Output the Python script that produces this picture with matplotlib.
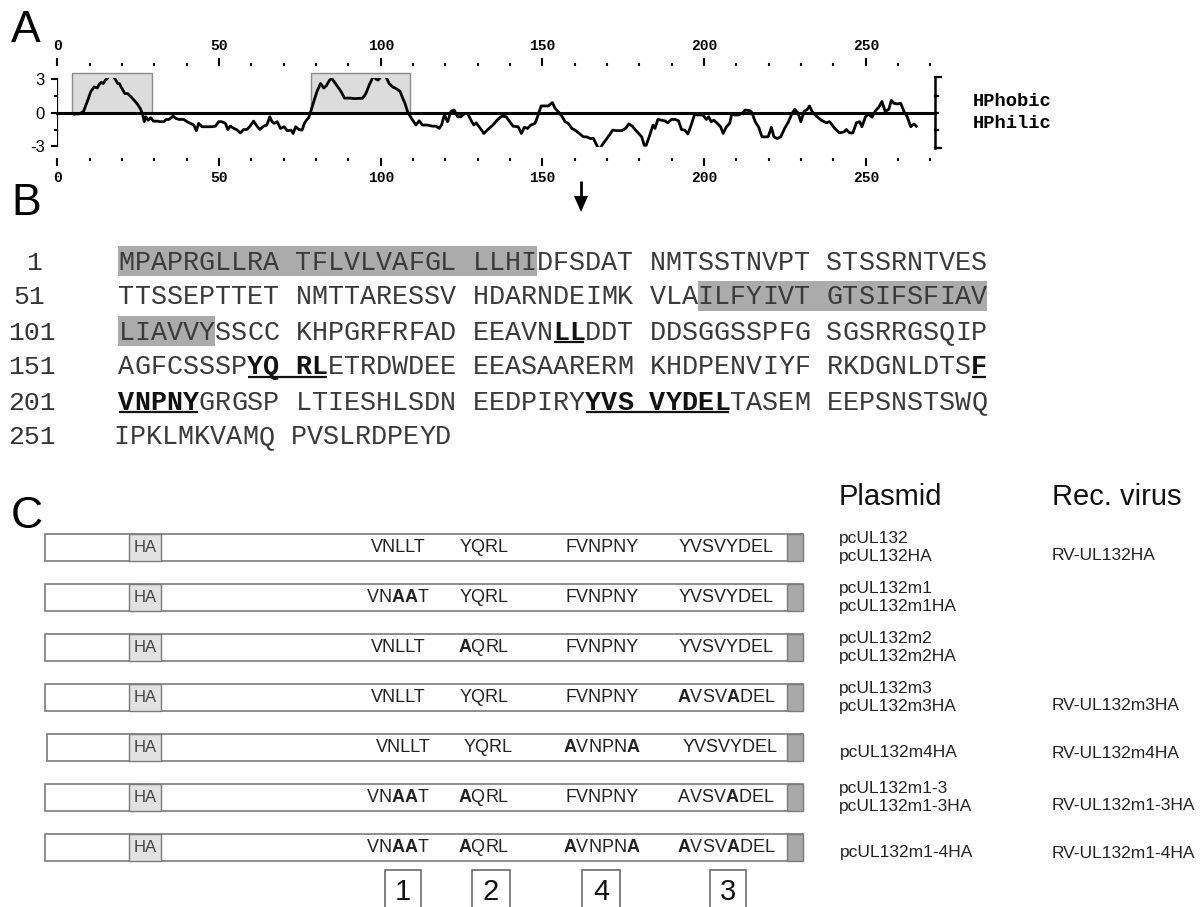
import matplotlib
matplotlib.use("Agg")
import matplotlib.pyplot as plt
from matplotlib.patches import Rectangle

plt.rcParams['font.family'] = ['Liberation Sans', 'DejaVu Sans']
plt.rcParams['mathtext.fontset'] = 'custom'
plt.rcParams['mathtext.rm'] = 'Liberation Sans'
plt.rcParams['mathtext.it'] = 'Liberation Sans:italic'
plt.rcParams['mathtext.bf'] = 'Liberation Sans:bold'

# ---- panel A: hydropathy profile (residue, score) ----
hyd_pos = [5.3, 6.8, 8.1, 9.4, 10.4, 11.4, 12.4, 12.9, 13.6, 14.2, 14.9, 15.6, 16.6, 17.8, 18.7,
           19.2, 19.7, 20.9, 21.8, 22.8, 23.8, 24.8, 25.6, 26.3, 26.9, 27.4, 28.1, 28.9, 29.7,
           30.9, 31.7, 32.9, 33.7, 34.5, 35.2, 35.8, 36.6, 37.6, 39.1, 40.1, 41.2, 42.2, 43.0,
           43.7, 44.7, 46.3, 47.8, 48.9, 49.9, 50.9, 52.0, 52.7, 53.5, 54.6, 55.4, 56.6, 57.6,
           58.6, 59.6, 60.7, 61.5, 62.6, 63.8, 64.8, 65.7, 66.4, 67.1, 68.0, 69.0, 70.1, 71.1,
           72.3, 72.9, 73.7, 74.7, 75.7, 76.4, 77.1, 77.8, 78.5, 79.3, 80.3, 81.4, 82.4, 83.2,
           84.2, 84.9, 86.0, 87.0, 87.7, 88.8, 90.6, 92.1, 93.4, 94.4, 95.4, 96.5, 97.5, 98.0,
           98.5, 99.2, 99.8, 100.8, 101.8, 102.6, 103.7, 105.0, 106.0, 106.8, 107.5, 108.3,
           109.2, 109.9, 110.9, 111.9, 112.9, 114.5, 116.0, 117.1, 118.1, 118.8, 119.7, 120.7,
           121.7, 122.7, 123.8, 124.8, 126.0, 126.9, 127.9, 128.8, 129.5, 130.8, 131.9, 133.1,
           134.7, 136.0, 137.5, 138.8, 139.9, 140.9, 142.5, 143.5, 144.4, 145.4, 146.4, 147.7,
           148.5, 149.6, 150.8, 151.8, 153.1, 153.9, 154.9, 156.0, 157.0, 158.0, 159.1, 160.1,
           161.4, 162.7, 163.7, 164.8, 165.8, 166.8, 167.6, 168.4, 169.7, 170.7, 171.7, 173.1,
           174.6, 175.7, 176.7, 177.8, 178.8, 179.8, 180.7, 181.5, 182.1, 183.2, 184.2, 184.8,
           185.7, 186.8, 187.8, 188.8, 189.9, 191.1, 192.1, 193.0, 194.0, 195.0, 196.0, 197.1,
           198.1, 199.6, 200.7, 201.4, 202.2, 203.0, 204.1, 205.1, 205.9, 206.9, 207.9, 208.6,
           209.4, 210.7, 212.0, 212.7, 214.1, 214.8, 215.8, 216.9, 217.9, 219.8, 220.8, 221.6,
           222.6, 223.7, 224.9, 226.1, 227.2, 228.0, 229.0, 229.9, 230.9, 231.9, 232.6, 233.4,
           234.7, 236.2, 237.8, 238.8, 240.4, 241.9, 243.3, 244.0, 245.0, 246.0, 247.1, 248.1,
           248.8, 249.9, 250.9, 251.9, 253.0, 254.0, 255.0, 256.0, 257.1, 257.9, 258.7, 259.7,
           260.8, 261.8, 262.8, 263.9, 264.9, 265.6]
hyd_val = [-0.12, -0.1, 0.1, 1.1, 1.9, 2.3, 2.2, 2.5, 2.7, 2.6, 2.9, 3.1, 3.5, 3.05, 2.6,
           2.6, 2.3, 1.7, 1.7, 1.4, 1.1, 0.75, 0.4, -0.06, -0.8, -0.36, -0.66, -0.45, -0.75,
           -0.75, -0.8, -0.8, -0.6, -0.6, -0.45, -0.3, -0.5, -0.6, -0.6, -0.8, -0.95, -1.1, -1.6,
           -0.95, -1.25, -1.25, -1.25, -1.2, -0.8, -0.8, -0.95, -1.5, -1.2, -1.4, -1.5, -1.8, -1.5,
           -1.5, -1.2, -0.75, -1.1, -1.5, -1.2, -1.1, -0.36, -0.8, -0.95, -0.8, -1.4, -1.25, -1.6,
           -1.55, -1.85, -1.25, -1.5, -1.55, -0.95, -0.65, -0.4, 0.24, 1.0, 1.9, 2.6, 2.2, 2.4,
           2.9, 3.05, 2.6, 2.2, 1.9, 1.3, 1.3, 1.25, 1.28, 1.28, 1.7, 2.5, 3.1, 3.3,
           3.0, 2.9, 3.1, 3.5, 3.1, 2.6, 2.3, 2.1, 1.9, 1.3, 0.84, 0.1,
           -0.36, -0.66, -1.1, -0.72, -1.1, -1.1, -1.2, -1.2, -1.4, -1.1, -0.2, -0.8,
           0.1, 0.24, -0.36, -0.36, -0.06, -0.06, -0.66, -1.1, -0.9, -1.4, -1.85, -1.5,
           -1.1, -0.66, -0.3, -0.36, -0.8, -1.2, -1.25, -1.85, -1.3, -1.4, -1.1, -0.95,
           -0.36, 0.6, 0.6, 0.6, 0.9, 0.4, 0.1, -0.3, -0.8, -0.95, -1.4, -1.55,
           -1.85, -2.15, -2.15, -2.3, -2.3, -2.9, -3.3, -2.9, -2.4, -2.0, -1.55, -1.6,
           -1.6, -1.4, -1.0, -1.2, -1.55, -1.85, -2.15, -2.9, -2.9, -2.0, -1.1, -1.4,
           -0.6, -0.66, -0.72, -0.9, -0.6, -0.6, -0.72, -1.5, -1.55, -1.9, -1.1, -0.12,
           -0.2, -0.2, -0.6, -0.36, -0.8, -0.66, -0.95, -1.25, -1.85, -1.25, -0.95, -0.06,
           -0.2, -0.2, 0.0, 0.24, 0.18, 0.0, -0.8, -1.3, -2.15, -2.15, -1.3, -2.15,
           -2.3, -2.15, -1.4, -0.8, -0.06, 0.3, 0.0, -0.8, 0.1, 0.3, 0.6, 0.1,
           -0.3, -0.66, -0.9, -0.8, -1.4, -1.8, -1.7, -1.5, -1.8, -1.8, -0.9, -0.8,
           -1.25, -0.36, -0.12, -0.4, 0.18, 0.48, 1.0, 0.1, 0.3, 1.1, 0.84, 0.78,
           0.84, 0.1, -0.36, -1.25, -1.0, -1.2]
tm_regions = [(4.6, 29.2), (78.5, 109.2)]

# ---- panel B: sequence ----
seq_numbers = ['1', '51', '101', '151', '201', '251']
seq_rows = ['MPAPRGLLRA TFLVLVAFGL LLHIDFSDAT NMTSSTNVPT STSSRNTVES',
            'TTSSEPTTET NMTTARESSV HDARNDEIMK VLAILFYIVT GTSIFSFIAV',
            'LIAVVYSSCC KHPGRFRFAD EEAVNLLDDT DDSGGSSPFG SGSRRGSQIP',
            'AGFCSSSPYQ RLETRDWDEE EEASAARERM KHDPENVIYF RKDGNLDTSF',
            'VNPNYGRGSP LTIESHLSDN EEDPIRYYVS VYDELTASEM EEPSNSTSWQ',
            'IPKLMKVAMQ PVSLRDPEYD']
shaded = [(0, 0, 26), (1, 36, 54), (2, 0, 6)]
motif_bold = [(2, 27, 29), (3, 8, 13), (3, 53, 54), (4, 0, 5), (4, 29, 38)]

# ---- panel C: constructs ----
motif1 = ['VNLLT', r'VN$\mathbf{AA}$T', 'VNLLT', 'VNLLT', 'VNLLT', r'VN$\mathbf{AA}$T', r'VN$\mathbf{AA}$T']
motif2 = ['YQRL', 'YQRL', r'$\mathbf{A}$QRL', 'YQRL', 'YQRL', r'$\mathbf{A}$QRL', r'$\mathbf{A}$QRL']
motif3 = ['FVNPNY', 'FVNPNY', 'FVNPNY', 'FVNPNY', r'$\mathbf{A}$VNPN$\mathbf{A}$', 'FVNPNY',
          r'$\mathbf{A}$VNPN$\mathbf{A}$']
motif4 = ['YVSVYDEL', 'YVSVYDEL', 'YVSVYDEL', r'$\mathbf{A}$VSV$\mathbf{A}$DEL', 'YVSVYDEL',
          r'AVSV$\mathbf{A}$DEL', r'$\mathbf{A}$VSV$\mathbf{A}$DEL']
plasmids = [['pcUL132', 'pcUL132HA'], ['pcUL132m1', 'pcUL132m1HA'], ['pcUL132m2', 'pcUL132m2HA'],
            ['pcUL132m3', 'pcUL132m3HA'], ['pcUL132m4HA'], ['pcUL132m1-3', 'pcUL132m1-3HA'],
            ['pcUL132m1-4HA']]
viruses = ['RV-UL132HA', '', '', 'RV-UL132m3HA', 'RV-UL132m4HA', 'RV-UL132m1-3HA', 'RV-UL132m1-4HA']
motif_ids = ['1', '2', '4', '3']

W, H = 1204, 907
fig = plt.figure(figsize=(W / 100, H / 100), dpi=100)

# overlay in pixel coordinates
ax = fig.add_axes([0, 0, 1, 1])
ax.set_xlim(0, W)
ax.set_ylim(H, 0)
ax.axis('off')

# ---------- A ----------
x0px, xscale = 57.3, 3.234
top_px, bot_px, zero_px, yscale = 66, 158, 112.7, 11.23
xmax = 271.5
axa = fig.add_axes([x0px / W, 1 - bot_px / H, xmax * xscale / W, (bot_px - top_px) / H])
axa.set_xlim(0, xmax)
axa.set_ylim(-(bot_px - zero_px) / yscale, (zero_px - top_px) / yscale)
for s in axa.spines.values():
    s.set_visible(False)
axa.patch.set_alpha(0)

for a, b in tm_regions:
    axa.add_patch(Rectangle((a, 0), b - a, 3.5, facecolor='#dcdcdc', edgecolor='#8a8a8a',
                            lw=1, zorder=1))
line, = axa.plot(hyd_pos, hyd_val, color='black', lw=2, zorder=3)
line.set_clip_path(Rectangle((0, -3.08), 280, 6.16, transform=axa.transData))
axa.plot([0, xmax], [0, 0], color='black', lw=2.2, zorder=4, clip_on=False)
axa.plot([0, 0], [-3, 3], color='black', lw=1.6, zorder=4)

# right bracket
axa.plot([xmax, xmax], [-3.1, 3.15], color='black', lw=1.8, clip_on=False)
for yy, ln in [(3.15, 1.9), (-3.1, 1.9), (1.5, 0.8), (0, 0.8), (-1.5, 0.8)]:
    axa.plot([xmax, xmax + ln], [yy, yy], color='black', lw=1.6, clip_on=False)

axa.set_xticks(range(0, 251, 50))
axa.set_xticks(range(10, 271, 10), minor=True)
axa.tick_params(axis='x', which='both', top=True, bottom=True, labeltop=True, labelbottom=True,
                direction='out', width=1.5, pad=3)
axa.tick_params(axis='x', which='major', length=6)
axa.tick_params(axis='x', which='minor', length=2)
for lab in axa.get_xticklabels():
    lab.set_fontfamily('Liberation Mono')
    lab.set_fontweight('bold')
    lab.set_fontsize(10.5)
axa.set_yticks([-3, 0, 3])
axa.set_yticks([-1.5, 1.5], minor=True)
axa.tick_params(axis='y', which='major', length=4, width=1.5, pad=5, labelsize=12)
axa.tick_params(axis='y', which='minor', length=2, width=1.5)
axa.set_yticklabels(['-3', '0', '3'])

mono_b = dict(fontfamily='Liberation Mono', fontweight='bold', fontsize=13.5, va='center')
ax.text(973, 101, 'HPhobic', **mono_b)
ax.text(973, 124, 'HPhilic', **mono_b)

# panel letters
for letter, yy in [('A', 42), ('B', 215), ('C', 528)]:
    ax.text(11, yy, letter, fontsize=32, va='baseline', ha='left')

# ---------- B ----------
cw, sx0 = 16.09, 118.4
row_y = [261, 296, 331, 366, 401, 436]
row_dx = [0, 0, 0, 0, 0, -5]
num_x = {'1': 26, '51': 13}
for r, st, en in shaded:
    ax.add_patch(Rectangle((sx0 + row_dx[r] + st * cw, row_y[r] - 15), (en - st) * cw, 30,
                           facecolor='#ababab', edgecolor='none', zorder=1))
bold_set = set()
for r, st, en in motif_bold:
    for i in range(st, en):
        bold_set.add((r, i))
    ax.plot([sx0 + st * cw + 1, sx0 + en * cw - 1], [row_y[r] + 11, row_y[r] + 11],
            color='#111111', lw=1.6, solid_capstyle='butt', zorder=3)
for r, (num, row) in enumerate(zip(seq_numbers, seq_rows)):
    ax.text(num_x.get(num, 8), row_y[r] + 8.5, num, fontfamily='Liberation Mono', fontsize=19,
            color='#333333', va='baseline', ha='left')
    for i, ch in enumerate(row):
        if ch == ' ':
            continue
        b = (r, i) in bold_set
        ax.text(sx0 + row_dx[r] + (i + 0.5) * cw, row_y[r] + 8.5, ch, fontfamily='Liberation Mono',
                fontsize=19.3, fontweight='bold' if b else 'normal',
                color='#111111' if b else '#3a3a3a', ha='center', va='baseline', zorder=4)
# cleavage site arrow
ax.plot([581, 581], [181, 198], color='black', lw=2, solid_capstyle='butt')
ax.fill([574, 588, 581], [196, 196, 212], color='black', lw=0)

# ---------- C ----------
bar_y = [547, 597, 647, 697, 747, 797, 847]
bar_h = 27
m_x = [398, 484, 602, 726]
m_x5 = [403, 488, 602, 730]
for i, yc in enumerate(bar_y):
    left = 47 if i == 4 else 45
    ax.add_patch(Rectangle((left, yc - bar_h / 2), 803 - left, bar_h, facecolor='white',
                           edgecolor='#7a7a7a', lw=1.2, zorder=1))
    ax.add_patch(Rectangle((787, yc - bar_h / 2), 16, bar_h, facecolor='#a9a9a9',
                           edgecolor='#7a7a7a', lw=1.0, zorder=2))
    ax.add_patch(Rectangle((129, yc - bar_h / 2), 32, bar_h, facecolor='#e2e2e2',
                           edgecolor='#7a7a7a', lw=1.0, zorder=2))
    ax.text(145, yc + 1, 'HA', fontsize=12, color='#444444', ha='center', va='center')
    xs = m_x5 if i == 4 else m_x
    for xc, lab in zip(xs, [motif1[i], motif2[i], motif3[i], motif4[i]]):
        ax.text(xc, yc + 1, lab, fontsize=13, color='#222222', ha='center', va='center')
    lines = plasmids[i]
    if len(lines) == 2:
        ax.text(839, yc - 9, lines[0], fontsize=12.5, color='#222222', va='center')
        ax.text(839, yc + 9, lines[1], fontsize=12.5, color='#222222', va='center')
        vy = yc + 9
    else:
        ax.text(840, yc + 6, lines[0], fontsize=12.5, color='#222222', va='center')
        vy = yc + 6
    if viruses[i]:
        ax.text(1052, vy, viruses[i], fontsize=12.5, color='#222222', va='center')

ax.text(839, 505, 'Plasmid', fontsize=21, color='#111111', va='baseline')
ax.text(1052, 505, 'Rec. virus', fontsize=21, color='#111111', va='baseline')

box_x = [(385, 421), (472, 510), (582, 620), (710, 746)]
for (a, b), lab in zip(box_x, motif_ids):
    ax.add_patch(Rectangle((a, 870), b - a, 45, facecolor='white', edgecolor='#6a6a6a', lw=1.2))
    ax.text((a + b) / 2, 892, lab, fontsize=21, color='#111111', ha='center', va='center')

fig.savefig('out.png', dpi=100)
